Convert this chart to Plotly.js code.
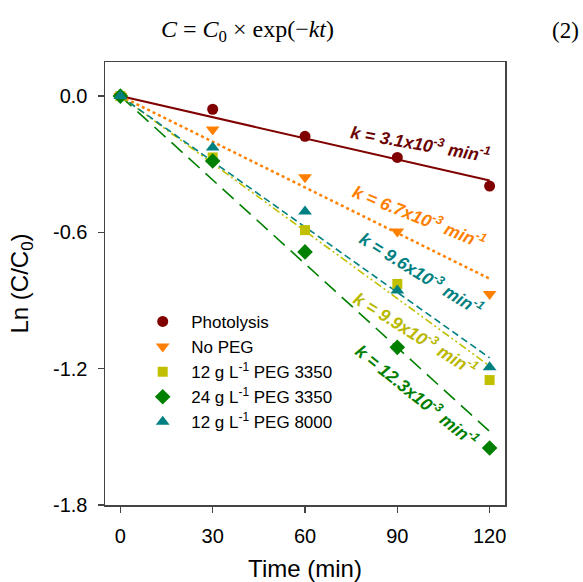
<!DOCTYPE html>
<html>
<head>
<meta charset="utf-8">
<script src="https://cdn.plot.ly/plotly-3.0.1.min.js"></script>
<style>html,body{margin:0;padding:0;background:#fff;}#chart{width:583px;height:582px;}</style>
</head>
<body>
<div id="chart"></div>
<script>
// Time points (min)
const timeMin = [0, 30, 60, 90, 120];
// Series names
const seriesNames = ["Photolysis", "No PEG", "12 g L<sup>-1</sup> PEG 3350", "24 g L<sup>-1</sup> PEG 3350", "12 g L<sup>-1</sup> PEG 8000"];
// Measured Ln(C/C0)
const photolysis = [0, -0.058, -0.177, -0.270, -0.396];
const noPEG = [0, -0.147, -0.357, -0.596, -0.871];
const peg3350_12 = [0, -0.270, -0.590, -0.827, -1.250];
const peg3350_24 = [0, -0.286, -0.686, -1.106, -1.549];
const peg8000_12 = [0, -0.226, -0.508, -0.856, -1.194];
// Fitted line end points (t = 0 and t = 120)
const fitTime = [0, 120];
const fitPhotolysis = [0, -0.372];
const fitNoPEG = [0, -0.804];
const fitPeg3350_12 = [0, -1.188];
const fitPeg3350_24 = [0, -1.476];
const fitPeg8000_12 = [0, -1.152];
// Rate constant labels
const kLabels = ["3.1", "6.7", "9.6", "9.9", "12.3"];
// Axis ticks
const xTicks = [0, 30, 60, 90, 120];
const yTicks = [0, -0.6, -1.2, -1.8];
const yTickText = ["0.0", "-0.6", "-1.2", "-1.8"];

const colors = ["#800000", "#FF8000", "#C0C000", "#008000", "#008080"];
const symbols = ["circle", "triangle-down", "square", "diamond", "triangle-up"];
const msize = [11, 12, 10, 12, 12];
const dataSets = [photolysis, noPEG, peg3350_12, peg3350_24, peg8000_12];
const fitSets = [fitPhotolysis, fitNoPEG, fitPeg3350_12, fitPeg3350_24, fitPeg8000_12];
const dashes = ["solid", "dot", "8px,3px,2px,3px,2px,3px", "15px,8px", "7px,4px"];
const widths = [2, 2.5, 1.6, 1.6, 1.6];

const traces = [];
[0,1,3,2,4].forEach(i => {
  traces.push({x: fitTime, y: fitSets[i], mode: "lines", showlegend: false, hoverinfo: "skip",
    line: {color: colors[i], width: widths[i], dash: dashes[i]}});
});
dataSets.forEach((d, i) => {
  traces.push({x: timeMin, y: d, mode: "markers", name: seriesNames[i],
    marker: {symbol: symbols[i], color: colors[i], size: msize[i], line: {width: 0}}});
});

const annPos = [
  {x: 97.5, y: -0.205, a: 10, c: "#6B0000"},
  {x: 97.1, y: -0.527, a: 22, c: "#FF8000"},
  {x: 97.8, y: -0.780, a: 32, c: "#008080"},
  {x: 95.9, y: -1.045, a: 32, c: "#B8B800"},
  {x: 96.5, y: -1.315, a: 39, c: "#008000"}
];
const annotations = annPos.map((p, i) => ({
  x: p.x, y: p.y, xref: "x", yref: "y", showarrow: false, textangle: p.a,
  text: "<b><i>k = " + kLabels[i] + "x10<sup>-3</sup> min<sup>-1</sup></i></b>",
  font: {family: "Liberation Sans, Arial, sans-serif", size: 17.5, color: p.c}
}));
annotations.push({
  xref: "paper", yref: "paper", x: 0.357, y: 1.07, xanchor: "center", yanchor: "middle", showarrow: false,
  text: "<i>C</i> = <i>C</i><sub>0</sub> × exp(−<i>kt</i>)",
  font: {family: "Liberation Serif, Times New Roman, serif", size: 24, color: "#000"}
});
annotations.push({
  xref: "paper", yref: "paper", x: 1.19, y: 1.07, xanchor: "right", yanchor: "middle", showarrow: false,
  text: "(2)",
  font: {family: "Liberation Serif, Times New Roman, serif", size: 23, color: "#000"}
});

const axisFont = {family: "Liberation Sans, Arial, sans-serif", size: 20, color: "#000"};
const titleFont = {family: "Liberation Sans, Arial, sans-serif", size: 24, color: "#000"};
const layout = {
  width: 583, height: 582,
  margin: {l: 105, r: 78, t: 62, b: 77},
  paper_bgcolor: "#fff", plot_bgcolor: "#fff",
  showlegend: true,
  legend: {x: 0.073, y: 0.454, xanchor: "left", yanchor: "top", bgcolor: "rgba(0,0,0,0)",
    font: {family: "Liberation Sans, Arial, sans-serif", size: 17, color: "#000"}, itemwidth: 47, tracegroupgap: 0},
  xaxis: {range: [-5, 125], tickvals: xTicks, ticktext: xTicks.map(String), ticks: "outside", ticklen: 6, tickwidth: 1.2,
    tickcolor: "#444", showline: true, linecolor: "#444", linewidth: 1.5, mirror: true, showgrid: false, zeroline: false,
    tickfont: axisFont, ticklabelstandoff: 6, title: {text: "Time (min)", font: titleFont, standoff: 16}},
  yaxis: {range: [-1.8, 0.15], tickvals: yTicks, ticktext: yTickText, ticks: "outside", ticklen: 6, tickwidth: 1.2,
    tickcolor: "#444", showline: true, linecolor: "#444", linewidth: 1.5, mirror: true, showgrid: false, zeroline: false,
    tickfont: axisFont, ticklabelstandoff: 6, title: {text: "Ln (C/C<sub>0</sub>)", font: titleFont, standoff: 17}},
  annotations: annotations
};
Plotly.newPlot("chart", traces, layout, {displayModeBar: false, staticPlot: true});
</script>
</body>
</html>
